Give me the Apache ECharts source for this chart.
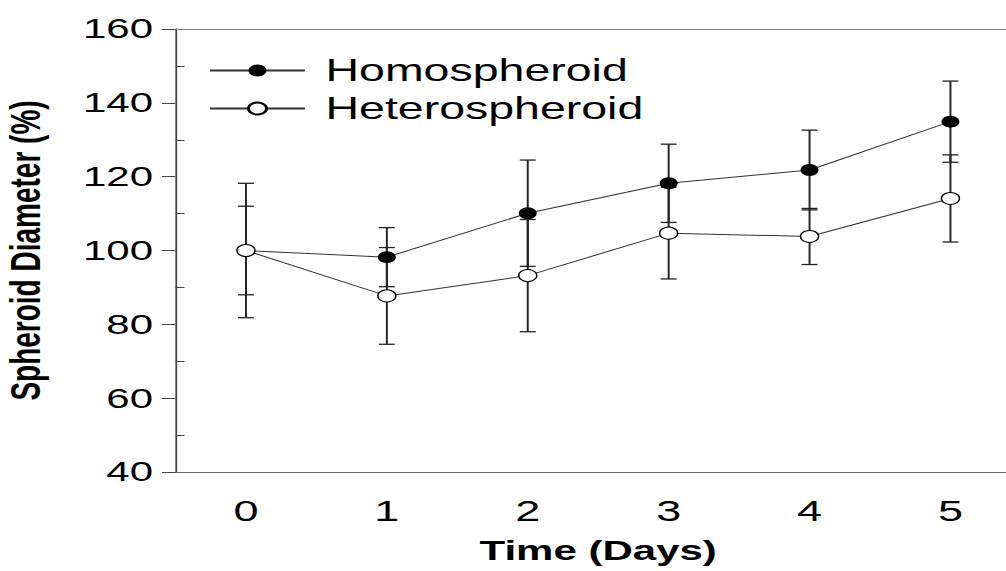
<!DOCTYPE html>
<html>
<head>
<meta charset="utf-8">
<script src="https://cdn.jsdelivr.net/npm/echarts@6/dist/echarts.min.js"></script>
<style>
  html, body { margin: 0; padding: 0; background: #fff; overflow: hidden; }
  /* the reference picture is stretched sideways, so draw narrow and widen;
     the frame runs past the right edge of the window */
  #chart { width: 700px; height: 571px; transform: scaleX(1.5); transform-origin: 0 0; }
</style>
</head>
<body>
<div id="chart"></div>
<script>
// days on the x axis
const days = ['0', '1', '2', '3', '4', '5'];
// mean diameter (%) and error half-widths
const homoMean = [100, 98.2, 110.1, 118.2, 121.8, 134.9];
const homoErr = [12, 8, 14.4, 10.6, 10.8, 11];
const heteroMean = [100, 87.7, 93.2, 104.7, 103.8, 114.1];
const heteroErr = [18.2, 13.1, 15.2, 12.4, 7.6, 11.8];
const yTicks = [40, 60, 80, 100, 120, 140, 160];
const yMinorTicks = [50, 70, 90, 110, 130, 150];

const font = "'Liberation Sans', Arial, sans-serif";

function errData(mean, err) {
  return mean.map((m, i) => [i, m - err[i], m + err[i]]);
}

function renderErr(params, api) {
  const lo = api.coord([api.value(0), api.value(1)]);
  const hi = api.coord([api.value(0), api.value(2)]);
  const w = 5.3;
  const st = { stroke: '#222', lineWidth: 1.3 };
  return {
    type: 'group',
    children: [
      { type: 'line', shape: { x1: lo[0], y1: hi[1], x2: lo[0], y2: lo[1] }, style: st },
      { type: 'line', shape: { x1: hi[0] - w, y1: hi[1], x2: hi[0] + w, y2: hi[1] }, style: st },
      { type: 'line', shape: { x1: lo[0] - w, y1: lo[1], x2: lo[0] + w, y2: lo[1] }, style: st }
    ]
  };
}

const chart = echarts.init(document.getElementById('chart'), null, { renderer: 'svg' });
chart.setOption({
  animation: false,
  grid: { left: 117, right: 19.4, top: 29, bottom: 99, containLabel: false, outerBoundsMode: 'none' },
  legend: {
    orient: 'vertical',
    left: 134,
    top: 49,
    itemWidth: 63.3,
    itemHeight: 15,
    itemGap: 5,
    data: ['Homospheroid', 'Heterospheroid'],
    textStyle: { fontFamily: font, fontSize: 31, color: '#000', lineHeight: 33, padding: [0, 0, 0, 8.7] }
  },
  xAxis: [{
    type: 'category',
    data: days,
    boundaryGap: true,
    axisLine: { lineStyle: { color: '#666', width: 1 } },
    axisTick: { alignWithLabel: true, length: 6, lineStyle: { color: '#555' } },
    axisLabel: { fontFamily: font, fontSize: 30, color: '#000', margin: 23 },
    splitLine: { show: false },
    name: 'Time (Days)',
    nameLocation: 'middle',
    nameGap: 65,
    nameTextStyle: { fontFamily: font, fontSize: 28, fontWeight: 'bold', color: '#000' }
  }, {
    // top frame line only
    type: 'category',
    data: days,
    position: 'top',
    axisLine: { lineStyle: { color: '#808080', width: 1.2 } },
    axisTick: { show: false },
    axisLabel: { show: false },
    splitLine: { show: false }
  }],
  yAxis: [{
    type: 'value',
    min: yTicks[0],
    max: yTicks[yTicks.length - 1],
    interval: 20,
    axisLine: { show: true, lineStyle: { color: '#444', width: 1.2 } },
    axisTick: { show: true, length: 9, lineStyle: { color: '#444' } },
    axisLabel: { fontFamily: font, fontSize: 28, color: '#000', margin: 15 },
    splitLine: { show: false },
    name: 'Spheroid Diameter (%)',
    nameLocation: 'middle',
    nameGap: 86,
    nameRotate: 90,
    nameTextStyle: { fontFamily: font, fontSize: 28, fontWeight: 'bold', color: '#000' }
  }, {
    type: 'value',
    min: yTicks[0],
    max: yTicks[yTicks.length - 1],
    interval: 10,
    position: 'left',
    axisLine: { show: false },
    axisTick: { show: true, inside: true, length: 6, customValues: yMinorTicks, lineStyle: { color: '#444' } },
    axisLabel: { show: false },
    splitLine: { show: false }
  }],
  series: [
    {
      type: 'custom',
      name: 'homoErr',
      renderItem: renderErr,
      encode: { x: 0, y: [1, 2] },
      data: errData(homoMean, homoErr),
      z: 1
    },
    {
      type: 'custom',
      name: 'heteroErr',
      renderItem: renderErr,
      encode: { x: 0, y: [1, 2] },
      data: errData(heteroMean, heteroErr),
      z: 1
    },
    {
      type: 'line',
      name: 'Homospheroid',
      data: homoMean,
      symbol: 'circle',
      symbolSize: 12,
      lineStyle: { color: '#333', width: 1 },
      itemStyle: { color: '#000', borderColor: '#000', borderWidth: 0 },
      z: 2
    },
    {
      type: 'line',
      name: 'Heterospheroid',
      data: heteroMean,
      symbol: 'circle',
      symbolSize: 12,
      lineStyle: { color: '#333', width: 1 },
      itemStyle: { color: '#fff', borderColor: '#000', borderWidth: 1 },
      z: 3
    }
  ]
});
</script>
</body>
</html>
